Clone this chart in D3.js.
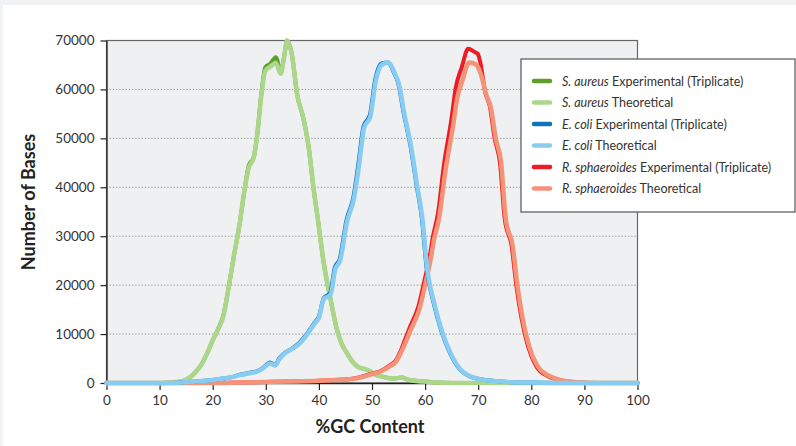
<!DOCTYPE html>
<html>
<head>
<meta charset="utf-8">
<script src="https://cdn.jsdelivr.net/npm/d3@7"></script>
<style>
  body { margin: 0; background: #ffffff; }
</style>
</head>
<body>
<script>
const width = 796;
const height = 446;

// Series: [ %GC, number of bases ]
const saureusExp = [
  [0, 0], [10, 0], [12, 100], [14, 300], [15, 700], [16, 1400], [17, 2500], [18, 4000],
  [19, 6200], [20, 8700], [21, 11000], [22, 13800], [23, 19500], [24, 26000], [25, 32000],
  [26, 39500], [26.8, 44500], [27.7, 46000], [28.3, 50000], [29.2, 59500], [29.9, 64500],
  [30.8, 65200], [31.9, 66600], [32.8, 63600], [33.5, 67000], [34.0, 70000], [34.9, 67200],
  [35.9, 59000], [37.1, 54000], [38.1, 48000], [39.0, 39700], [39.8, 33500], [40.9, 24600],
  [42.2, 17100], [43.4, 10900], [44.3, 8000], [45.3, 6100], [46.6, 4000], [47.5, 3200],
  [48.5, 2900], [49.5, 2500], [50.5, 1800], [52, 1300], [54, 900], [55.5, 1100], [57, 600],
  [59.7, 300], [62, 100], [65, 0], [100, 0],
];
const saureusTheo = [
  [0, 0], [10, 0], [12, 100], [14, 300], [15, 700], [16, 1400], [17, 2500], [18, 4000],
  [19, 6200], [20, 8700], [21, 11000], [22, 13600], [23, 19500], [24, 26000], [25, 32000],
  [26, 39500], [26.8, 44000], [27.7, 46000], [28.3, 50000], [29.2, 59000], [29.9, 63800],
  [30.8, 64600], [31.9, 65400], [32.8, 63200], [33.5, 67000], [34.0, 70000], [34.9, 67200],
  [35.9, 59000], [37.1, 54000], [38.1, 48000], [39.0, 39700], [39.8, 33500], [40.9, 24600],
  [42.2, 17100], [43.4, 10900], [44.3, 8000], [45.3, 6100], [46.6, 4000], [47.5, 3200],
  [48.5, 2900], [49.5, 2500], [50.5, 1800], [52, 1300], [54, 900], [55.5, 1100], [57, 600],
  [59.7, 300], [62, 100], [65, 0], [100, 0],
];
const ecoliExp = [
  [0, 0], [12, 0], [14, 100], [16, 250], [18, 400], [20, 600], [22, 900], [24, 1300],
  [25.1, 1700], [27, 2100], [28.3, 2400], [29.5, 3100], [30.8, 4200], [31.8, 3700],
  [32.5, 5000], [33.3, 5900], [35, 7100], [36.5, 8400], [37.5, 9700], [38.4, 11100],
  [39.3, 12500], [40, 13600], [40.9, 17300], [42.1, 18400], [43.0, 23600], [43.9, 25300],
  [45.2, 33300], [46.5, 38000], [47.4, 44500], [48.4, 52400], [49.6, 54800], [50.6, 62000],
  [51.8, 65300], [53.0, 65500], [54.1, 63500], [55.0, 61000], [55.9, 55500], [57.2, 48700],
  [58.4, 40400], [59.4, 33500], [60.3, 23300], [61.6, 16400], [63.2, 10200], [64.7, 6100],
  [66.6, 2700], [68.5, 1300], [70.5, 750], [75, 250], [80, 80], [85, 0], [100, 0],
];
const ecoliTheo = [
  [0, 0], [12, 0], [14, 100], [16, 250], [18, 400], [20, 600], [22, 900], [24, 1300],
  [25.1, 1600], [27, 2000], [28.3, 2300], [29.5, 3000], [30.8, 4000], [31.8, 3600],
  [32.5, 4800], [33.3, 5800], [35, 7000], [36.5, 8200], [37.5, 9500], [38.4, 10900],
  [39.3, 12300], [40, 13300], [40.9, 17100], [42.2, 18100], [43.1, 23300], [44.0, 25000],
  [45.3, 33000], [46.6, 37700], [47.5, 44000], [48.5, 52100], [49.7, 54500], [50.7, 61700],
  [51.9, 65100], [53.1, 65500], [54.2, 63500], [55.1, 61000], [56.0, 55500], [57.3, 48700],
  [58.5, 40400], [59.5, 33500], [60.4, 23300], [61.7, 16400], [63.3, 10200], [64.8, 6100],
  [66.7, 2700], [68.6, 1300], [70.5, 750], [75, 250], [80, 80], [85, 0], [100, 0],
];
const rsphExp = [
  [0, 0], [20, 0], [25, 100], [30, 200], [35, 300], [40, 450], [43, 600], [45.9, 800],
  [48.4, 1400], [50, 1900], [51.5, 2400], [53.5, 3700], [54.5, 4600], [55.3, 6300],
  [56.2, 8800], [57.1, 11300], [58.7, 15500], [59.9, 21000], [60.8, 25500], [61.5, 30000],
  [62.4, 34500], [63.6, 45000], [64.9, 53500], [65.8, 60500], [66.9, 64500], [68.1, 68300],
  [69.4, 67600], [69.9, 67300], [70.4, 65500], [71.3, 59500], [72.2, 56500], [73.1, 50000],
  [74.1, 45000], [75.0, 33500], [76.3, 28000], [77.2, 19800], [78.2, 13000], [79.4, 7400],
  [81.0, 3300], [82.9, 1500], [85, 700], [88, 200], [92, 0], [100, 0],
];
const rsphTheo = [
  [0, 0], [20, 0], [25, 100], [30, 200], [35, 300], [40, 450], [43, 600], [45.9, 750],
  [48.4, 1300], [50, 1800], [51.5, 2300], [53.5, 3500], [54.5, 4300], [55.4, 6100],
  [56.4, 8500], [57.3, 10900], [58.9, 15000], [60.1, 20500], [61.0, 25000], [61.7, 29400],
  [62.6, 33500], [63.9, 43900], [65.2, 52100], [66.1, 58500], [67.0, 61700], [68.3, 65500],
  [69.6, 65100], [70.5, 63100], [71.5, 59000], [72.4, 56200], [73.3, 50000], [74.3, 45200],
  [75.2, 33500], [76.5, 28000], [77.4, 19800], [78.4, 13000], [79.6, 7500], [81.2, 3400],
  [83.1, 1600], [85, 750], [88, 200], [92, 0], [100, 0],
];

const xTicks = [0, 10, 20, 30, 40, 50, 60, 70, 80, 90, 100];
const yTicks = [0, 10000, 20000, 30000, 40000, 50000, 60000, 70000];

// Draw order: green, then red, then blue on top
const series = [
  { species: 'S. aureus', kind: 'Experimental (Triplicate)', color: '#5e9f2c', width: 4, values: saureusExp },
  { species: 'S. aureus', kind: 'Theoretical', color: '#acd68a', width: 4.5, values: saureusTheo },
  { species: 'R. sphaeroides', kind: 'Experimental (Triplicate)', color: '#ed1c24', width: 4, values: rsphExp },
  { species: 'R. sphaeroides', kind: 'Theoretical', color: '#f59378', width: 4.5, values: rsphTheo },
  { species: 'E. coli', kind: 'Experimental (Triplicate)', color: '#0f73ba', width: 4, values: ecoliExp },
  { species: 'E. coli', kind: 'Theoretical', color: '#88cdf1', width: 4.5, values: ecoliTheo },
];
const legendOrder = [0, 1, 4, 5, 2, 3];

const svg = d3
  .select('body')
  .append('svg')
  .attr('width', width)
  .attr('height', height)
  .style('display', 'block')
  .style('font-family', 'Lato, "Open Sans", sans-serif');

// light grey page edge, white panel
svg.append('rect').attr('width', width).attr('height', height).attr('fill', '#f1f2f4');
svg.append('rect').attr('x', 3).attr('y', 5).attr('width', width).attr('height', height).attr('fill', '#ffffff');

const x = d3.scaleLinear().domain([0, 100]).range([106.5, 637.5]);
const y = d3.scaleLinear().domain([0, 70000]).range([383, 40.5]);

// plot background + frame
svg
  .append('rect')
  .attr('x', x(0))
  .attr('y', y(70000))
  .attr('width', x(100) - x(0))
  .attr('height', y(0) - y(70000))
  .attr('fill', '#eff0f2')
  .attr('stroke', '#666666')
  .attr('stroke-width', 1.2);

// dotted gridlines
svg
  .append('g')
  .selectAll('line')
  .data(yTicks.filter((d) => d > 0 && d < 70000))
  .join('line')
  .attr('x1', x(0))
  .attr('x2', x(100))
  .attr('y1', (d) => y(d))
  .attr('y2', (d) => y(d))
  .attr('stroke', '#8a8a8a')
  .attr('stroke-width', 1)
  .attr('stroke-dasharray', '1.2,2');

// axes
const yAxis = svg
  .append('g')
  .attr('transform', `translate(${x(0)},0)`)
  .call(
    d3.axisLeft(y).tickValues(yTicks).tickFormat(d3.format('d')).tickSize(6).tickSizeOuter(0).tickPadding(6)
  );

const xAxis = svg
  .append('g')
  .attr('transform', `translate(0,${y(0)})`)
  .call(d3.axisBottom(x).tickValues(xTicks).tickSize(7).tickSizeOuter(0).tickPadding(5));

[yAxis, xAxis].forEach((ax) => {
  ax.select('.domain').attr('stroke', '#222222').attr('stroke-width', 1.3);
  ax.selectAll('.tick line').attr('stroke', '#222222').attr('stroke-width', 1.2);
  ax.selectAll('.tick text')
    .attr('fill', '#333333')
    .style('font-size', '13.5px')
    .style('font-family', 'Lato, "Open Sans", sans-serif');
});

// curves
const line = d3
  .line()
  .x((d) => x(d[0]))
  .y((d) => y(d[1]))
  .curve(d3.curveMonotoneX);

svg
  .append('g')
  .selectAll('path')
  .data(series)
  .join('path')
  .attr('d', (d) => line(d.values))
  .attr('fill', 'none')
  .attr('stroke', (d) => d.color)
  .attr('stroke-width', (d) => d.width)
  .attr('stroke-linejoin', 'round')
  .attr('stroke-linecap', 'round');

// axis titles
svg
  .append('text')
  .attr('x', 370)
  .attr('y', 433)
  .attr('text-anchor', 'middle')
  .style('font-size', '18px')
  .style('font-weight', 'bold')
  .attr('fill', '#222222')
  .text('%GC Content');

svg
  .append('text')
  .attr('transform', 'translate(35,202) rotate(-90)')
  .attr('text-anchor', 'middle')
  .style('font-size', '18px')
  .style('font-weight', 'bold')
  .attr('fill', '#222222')
  .text('Number of Bases');

// legend
const legend = svg.append('g');
legend
  .append('rect')
  .attr('x', 521)
  .attr('y', 59)
  .attr('width', 274)
  .attr('height', 153)
  .attr('fill', '#ffffff')
  .attr('stroke', '#555555')
  .attr('stroke-width', 1.2);

legendOrder.forEach((idx, i) => {
  const s = series[idx];
  const ly = 81 + i * 21.5;
  legend
    .append('line')
    .attr('x1', 534)
    .attr('x2', 550)
    .attr('y1', ly)
    .attr('y2', ly)
    .attr('stroke', s.color)
    .attr('stroke-width', 4.5)
    .attr('stroke-linecap', 'round');
  const t = legend
    .append('text')
    .attr('x', 562)
    .attr('y', ly + 4.5)
    .style('font-size', '12.5px')
    .attr('fill', '#333333');
  t.append('tspan').style('font-style', 'italic').text(s.species);
  t.append('tspan').text(' ' + s.kind);
});
</script>
</body>
</html>
